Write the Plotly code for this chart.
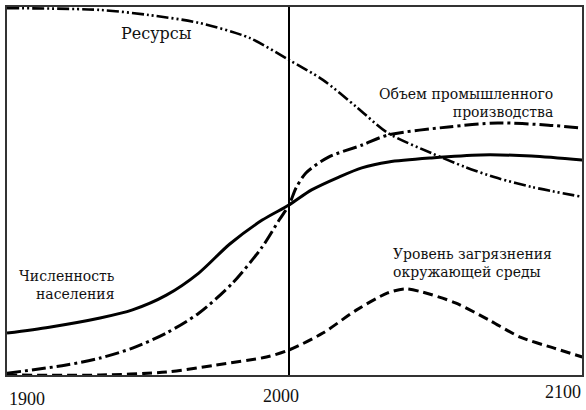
import plotly.graph_objects as go

# --- data ---
res_years = [1900, 1933, 1950.5, 1968, 1986, 2000, 2012, 2024, 2035, 2050.5, 2062.5, 2074, 2086, 2104]
res_vals = [99.7, 99.2, 97.8, 95.7, 91.6, 85.6, 80.2, 72.8, 65.8, 60.3, 56.5, 53.5, 51.1, 48.4]

ind_years = [1900, 1921, 1933, 1944.5, 1956.5, 1968, 1980, 1990.5, 1996.5, 2000, 2002.5, 2006, 2014, 2026,
             2035, 2056.5, 2074, 2092, 2104]
ind_vals = [0.5, 2.7, 4.6, 7.3, 11.4, 16.8, 25.0, 34.8, 42.1, 46.2, 50.8, 54.9, 59.2, 62.5,
            65.2, 67.4, 68.5, 67.9, 67.1]

pop_years = [1900, 1915, 1933, 1944.5, 1956.5, 1968, 1979, 1990.5, 2000, 2008, 2017.7, 2025.8, 2035.3,
             2050.5, 2068, 2086, 2104]
pop_vals = [11.4, 13.0, 15.5, 17.7, 21.7, 27.7, 35.6, 42.1, 46.2, 50.3, 53.8, 56.3, 57.9,
            59.0, 59.8, 59.5, 58.4]

pol_years = [1900, 1933, 1956.5, 1974, 1992, 2000, 2012, 2024, 2035, 2041, 2047, 2059, 2071, 2082, 2094, 2104]
pol_vals = [0.0, 0.0, 0.8, 2.7, 4.9, 6.8, 11.4, 17.7, 22.3, 23.4, 22.6, 19.6, 14.9, 10.3, 7.3, 4.9]

mark_year = 2000
x_range = [1900, 2103.9]
y_range = [0, 100]
tick_labels = ["1900", "2000", "2100"]

FONT = "Liberation Serif"
CYR_FONT = "DejaVu Serif"

fig = go.Figure()

fig.add_trace(go.Scatter(x=res_years, y=res_vals, mode="lines",
                         line=dict(color="black", width=2.6, dash="12px,3px,2px,3px,2px,3px",
                                   shape="spline", smoothing=0.8),
                         name="Ресурсы"))
fig.add_trace(go.Scatter(x=ind_years, y=ind_vals, mode="lines",
                         line=dict(color="black", width=3, dash="14px,4px,3px,4px",
                                   shape="spline", smoothing=0.8),
                         name="Объем промышленного производства"))
fig.add_trace(go.Scatter(x=pop_years, y=pop_vals, mode="lines",
                         line=dict(color="black", width=3, shape="spline", smoothing=0.8),
                         name="Численность населения"))
fig.add_trace(go.Scatter(x=pol_years, y=pol_vals, mode="lines",
                         line=dict(color="black", width=3, dash="10px,5px", shape="spline", smoothing=0.8),
                         name="Уровень загрязнения окружающей среды"))

fig.add_shape(type="line", xref="x", yref="paper", x0=mark_year, x1=mark_year, y0=0, y1=1,
              line=dict(color="black", width=2))

ann = [
    dict(text="Ресурсы", x=0.26, y=0.929, xanchor="center", yanchor="middle", size=16, align="center", f=CYR_FONT),
    dict(text="Объем промышленного<br>производства", x=0.953, y=0.740, xanchor="right",
         yanchor="middle", size=14, align="right", f=CYR_FONT),
    dict(text="Численность<br>населения", x=0.192, y=0.245, xanchor="right",
         yanchor="middle", size=14, align="right", f=CYR_FONT),
    dict(text="Уровень загрязнения<br>окружающей среды", x=0.667, y=0.303, xanchor="left",
         yanchor="middle", size=14, align="left", f=CYR_FONT),
    dict(text=tick_labels[0], x=0.035, y=-0.066, xanchor="center", yanchor="middle", size=18, align="center", f=FONT),
    dict(text=tick_labels[1], x=0.477, y=-0.057, xanchor="center", yanchor="middle", size=18, align="center", f=FONT),
    dict(text=tick_labels[2], x=0.967, y=-0.046, xanchor="center", yanchor="middle", size=18, align="center", f=FONT),
]
for a in ann:
    fig.add_annotation(text=a["text"], x=a["x"], y=a["y"], xref="paper", yref="paper",
                       xanchor=a["xanchor"], yanchor=a["yanchor"], showarrow=False,
                       align=a["align"], font=dict(family=a["f"], size=a["size"], color="#111"))

fig.update_xaxes(range=x_range, showgrid=False, zeroline=False, showticklabels=False, ticks="",
                 showline=True, mirror=True, linecolor="#333", linewidth=1.5)
fig.update_yaxes(range=y_range, showgrid=False, zeroline=False, showticklabels=False, ticks="",
                 showline=True, mirror=True, linecolor="#333", linewidth=1.5)

fig.update_layout(width=586, height=410, margin=dict(l=7, r=2, t=7, b=35),
                  paper_bgcolor="white", plot_bgcolor="white", showlegend=False,
                  font=dict(family=FONT))

fig.write_html("out.html", config={"displayModeBar": False},
               post_script="document.body.style.margin='0';document.body.style.overflow='hidden';")
